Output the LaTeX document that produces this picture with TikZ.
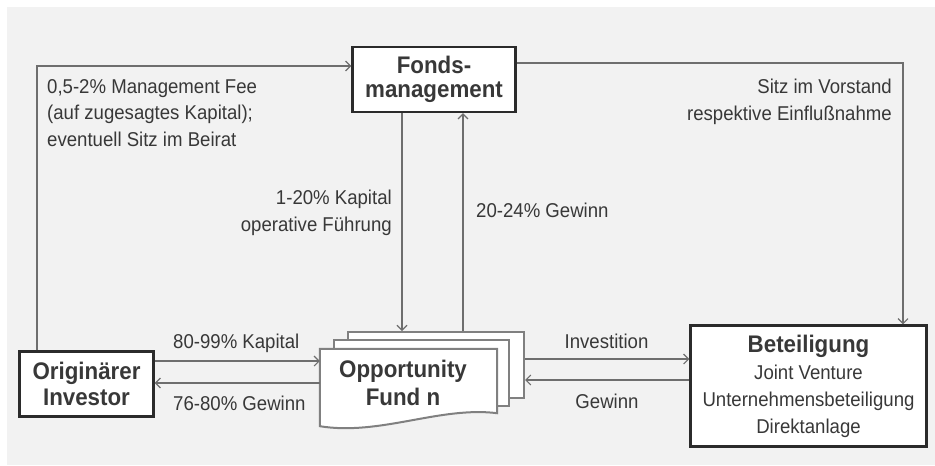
\documentclass[tikz,border=0pt]{standalone}
\usepackage{fontspec}
\setmainfont{Liberation Sans}[FakeStretch=0.93]
\usetikzlibrary{arrows.meta}
\definecolor{bg}{HTML}{F2F2F2}
\definecolor{txt}{HTML}{383838}
\definecolor{lnc}{HTML}{6E6E6E}
\definecolor{bx}{HTML}{2B2B2B}
\definecolor{pg}{HTML}{808080}
\begin{document}
\begin{tikzpicture}[x=1pt,y=-1pt,
  arr/.style={draw=lnc, line width=1.1pt, -{Straight Barb[length=5pt,width=10pt,line width=1.1pt]}},
  box/.style={draw=bx, line width=2.4pt, fill=white, align=center, inner sep=0pt, text=txt},
  page/.style={draw=pg, line width=2pt, fill=white, inner sep=0pt},
  lbl/.style={text=txt, font=\fontsize{20}{26.5}\selectfont, inner sep=0pt},
  boldtxt/.style={font=\fontsize{24}{26}\selectfont\bfseries}
]
\useasboundingbox (0,0) rectangle (935,466);
\fill[white] (0,0) rectangle (935,466);
\fill[bg] (7,7) rectangle (935,465);

% boxes
\node[box, font=\fontsize{24}{24.5}\selectfont\bfseries, minimum width=163pt, minimum height=65pt] (fm) at (434,79.5) {Fonds-\\management};
\node[box, boldtxt, minimum width=134pt, minimum height=65pt] (inv) at (86.5,384) {Originärer\\Investor};
\node[box, font=\fontsize{20}{27}\selectfont, minimum width=236pt, minimum height=121pt] (bet) at (808.5,386)
  {{\fontsize{24}{27}\selectfont\bfseries Beteiligung}\\Joint Venture\\Unternehmensbeteiligung\\Direktanlage};

% fund pages
\node[page, minimum width=176pt, minimum height=66pt] (pback) at (436,365) {};
\node[page, minimum width=175pt, minimum height=66pt] (pmid) at (421.5,373) {};
\node[inner sep=0pt, minimum width=177pt, minimum height=64pt] (pfront) at (408.5,381) {};
\draw[page] (pfront.north west) -- (pfront.north east) -- (pfront.south east)
  .. controls (440,406) and (380,436) .. ([yshift=-13pt]pfront.south west) -- cycle;
\node[text=txt, align=center, inner sep=0pt, font=\fontsize{24}{28}\selectfont\bfseries] (fundtxt) at (403,383) {Opportunity\\Fund n};

% connectors
\coordinate (a1) at ([yshift=23pt]inv.east);
\draw[arr] (a1) -- (a1 -| pfront.west);
\coordinate (a2) at ([yshift=1pt]inv.east);
\draw[arr] (a2 -| pfront.west) -- (a2);
\coordinate (a3) at ([yshift=6pt]pback.east);
\draw[arr] (a3) -- (a3 -| bet.west);
\coordinate (a4) at ([yshift=-15pt]pback.east);
\draw[arr] (a4 -| bet.west) -- (a4);
\coordinate (a5) at ([xshift=-32pt]fm.south);
\draw[arr] (a5) -- (a5 |- pback.north);
\coordinate (a6) at ([xshift=29pt]fm.south);
\draw[arr] (a6 |- pback.north) -- (a6);
\draw[arr] ([xshift=-49.5pt]inv.north) |- ([yshift=13.5pt]fm.west);
\draw[arr] ([yshift=16.5pt]fm.east) -| ([xshift=94.5pt]bet.north);

% labels
\node[lbl, align=left, anchor=north west] (lfee) at (47,79) {0,5-2\% Management Fee\\(auf zugesagtes Kapital);\\eventuell Sitz im Beirat};
\node[lbl, align=right, anchor=north east] (lvor) at (892,79) {Sitz im Vorstand\\respektive Einflußnahme};
\node[lbl, align=right, anchor=north east] (lop) at (392,190) {1-20\% Kapital\\operative Führung};
\node[lbl, anchor=base west] (lgw1) at (476,217) {20-24\% Gewinn};
\node[lbl, anchor=base west] (lkap) at (173,348) {80-99\% Kapital};
\node[lbl, anchor=base west] (lgw2) at (173,410) {76-80\% Gewinn};
\node[lbl, anchor=base] (linv) at (606.5,348) {Investition};
\node[lbl, anchor=base] (lgw3) at (607,408) {Gewinn};
\end{tikzpicture}
\end{document}
